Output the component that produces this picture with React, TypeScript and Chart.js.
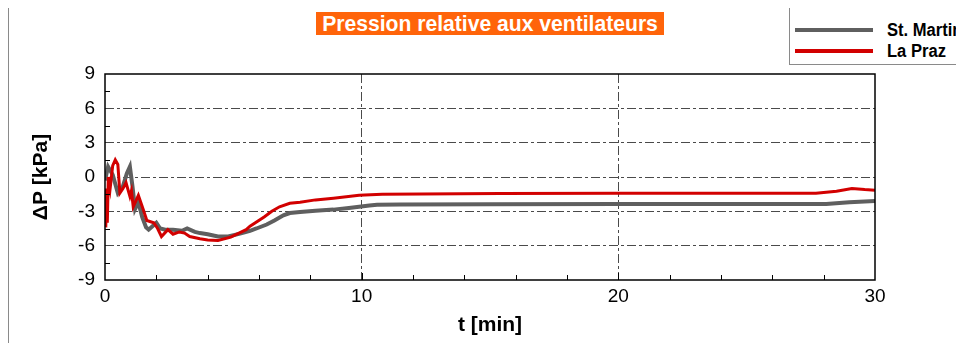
import React, { useEffect, useRef } from "react";
import { Chart, registerables } from "chart.js";

Chart.register(...registerables);

const CHART_TITLE = "Pression relative aux ventilateurs";
const SERIES_NAMES = ["St. Martin", "La Praz"];
const X_TITLE = "t [min]";
const Y_TITLE = "\u0394P [kPa]";
const X_TICKS = [0, 10, 20, 30];
const Y_TICKS = [-9, -6, -3, 0, 3, 6, 9];
const X_MINOR = [2, 4, 6, 8, 12, 14, 16, 18, 22, 24, 26, 28];
const Y_MINOR = [-7.5, -4.5, -1.5, 1.5, 4.5, 7.5];

// St. Martin (gray)
const tStMartin = [
  0, 0.12, 0.3, 0.5, 0.7, 0.85, 0.97, 1.07, 1.17, 1.3, 1.45, 1.6, 1.7, 1.85,
  2.0, 2.15, 2.35, 2.65, 3.0, 3.2, 3.5, 3.7, 4.0, 4.4, 4.8, 5.26, 5.65, 5.9,
  6.3, 6.6, 6.95, 7.2, 7.6, 8.2, 8.9, 9.5, 9.9, 10.3, 10.6, 11.5, 15, 20, 25,
  28.1, 29, 30,
];
const pStMartin = [
  -0.3, 0.9, 0.2, -1.4, -0.8, 0.3, 0.9, -0.8, -2.8, -2.2, -3.5, -4.4, -4.6,
  -4.3, -4.0, -4.5, -4.6, -4.6, -4.7, -4.5, -4.8, -4.9, -5.0, -5.2, -5.2,
  -4.95, -4.7, -4.5, -4.15, -3.8, -3.35, -3.15, -3.05, -2.95, -2.85, -2.7,
  -2.6, -2.5, -2.42, -2.4, -2.38, -2.37, -2.36, -2.36, -2.2, -2.1,
];

// La Praz (red)
const tLaPraz = [
  0, 0.03, 0.06, 0.09, 0.13, 0.2, 0.3, 0.4, 0.5, 0.58, 0.7, 0.82, 0.97, 1.03,
  1.1, 1.3, 1.5, 1.63, 1.9, 2.05, 2.2, 2.45, 2.65, 2.9, 3.1, 3.3, 3.7, 4.0,
  4.4, 4.9, 5.5, 5.65, 6.2, 6.5, 6.8, 7.2, 7.6, 8.2, 8.9, 9.9, 10.8, 15.4, 20,
  27.7, 28.5, 29.1, 29.6, 30,
];
const pLaPraz = [
  -1.0, -4.4, -1.5, -4.0, 0.0, -1.0, 1.0, 1.5, 1.1, -1.4, -1.0, -0.5, -1.7,
  -1.2, -2.6, -1.6, -2.9, -3.8, -4.0, -4.5, -5.2, -4.6, -5.0, -4.8, -4.9,
  -5.2, -5.4, -5.5, -5.55, -5.25, -4.6, -4.3, -3.5, -3.0, -2.6, -2.3, -2.2,
  -2.0, -1.85, -1.6, -1.5, -1.45, -1.43, -1.43, -1.25, -1.0, -1.1, -1.15,
];

const GRAY = "#5f5f5f";
const RED = "#d20000";
const FONT = "'Liberation Sans', Arial, Helvetica, sans-serif";

const framePlugin = {
  id: "frameTicks",
  afterDraw(chart: any) {
    const { ctx, chartArea } = chart;
    const xs = chart.scales.x;
    const ys = chart.scales.y;
    ctx.save();
    ctx.strokeStyle = "#000";
    ctx.lineWidth = 1.5;
    ctx.setLineDash([]);
    ctx.strokeRect(
      chartArea.left,
      chartArea.top,
      chartArea.right - chartArea.left,
      chartArea.bottom - chartArea.top
    );
    ctx.lineWidth = 1;
    ctx.beginPath();
    X_MINOR.forEach((v) => {
      const px = Math.round(xs.getPixelForValue(v)) + 0.5;
      ctx.moveTo(px, chartArea.bottom);
      ctx.lineTo(px, chartArea.bottom - 5);
    });
    [10, 20].forEach((v) => {
      const px = Math.round(xs.getPixelForValue(v)) + 0.5;
      ctx.moveTo(px, chartArea.bottom);
      ctx.lineTo(px, chartArea.bottom - 7);
    });
    Y_MINOR.forEach((v) => {
      const py = Math.round(ys.getPixelForValue(v)) + 0.5;
      ctx.moveTo(chartArea.left, py);
      ctx.lineTo(chartArea.left + 5, py);
    });
    ctx.stroke();
    ctx.restore();
  },
};

function ChartView() {
  const ref = useRef<HTMLCanvasElement | null>(null);
  useEffect(() => {
    if (!ref.current) return;
    const chart = new Chart(ref.current, {
      type: "line",
      data: {
        datasets: [
          {
            label: SERIES_NAMES[0],
            data: tStMartin.map((t, i) => ({ x: t, y: pStMartin[i] })),
            borderColor: GRAY,
            backgroundColor: GRAY,
            borderWidth: 4,
            pointRadius: 0,
            tension: 0,
            order: 2,
          },
          {
            label: SERIES_NAMES[1],
            data: tLaPraz.map((t, i) => ({ x: t, y: pLaPraz[i] })),
            borderColor: RED,
            backgroundColor: RED,
            borderWidth: 3,
            pointRadius: 0,
            tension: 0,
            order: 1,
          },
        ],
      },
      options: {
        animation: false,
        responsive: false,
        maintainAspectRatio: false,
        layout: { padding: { left: 0, top: 66, right: 81, bottom: 0 } },
        plugins: {
          legend: { display: false },
          title: { display: false },
          tooltip: { enabled: false },
        },
        scales: {
          x: {
            type: "linear",
            min: 0,
            max: 30,
            afterBuildTicks: (s: any) => {
              s.ticks = X_TICKS.map((v) => ({ value: v }));
            },
            afterFit: (s: any) => {
              s.height = 63;
            },
            ticks: {
              color: "#000",
              font: { size: 19, family: FONT },
              padding: 5,
              maxRotation: 0,
              autoSkip: false,
            },
            grid: {
              drawTicks: false,
              lineWidth: 1,
              color: (c: any) =>
                c.tick && (c.tick.value === 10 || c.tick.value === 20)
                  ? "#4a4a4a"
                  : "rgba(0,0,0,0)",
            },
            border: { display: false, dash: [9, 3, 3, 3] },
            title: {
              display: true,
              text: X_TITLE,
              color: "#000",
              font: { size: 21, weight: "bold", family: FONT },
              padding: { top: 0, bottom: 5 },
            },
          },
          y: {
            type: "linear",
            min: -9,
            max: 9,
            afterBuildTicks: (s: any) => {
              s.ticks = Y_TICKS.map((v) => ({ value: v }));
            },
            afterFit: (s: any) => {
              s.width = 97;
            },
            ticks: {
              color: "#000",
              font: { size: 19, family: FONT },
              padding: 10,
              autoSkip: false,
            },
            grid: {
              drawTicks: false,
              lineWidth: 1,
              color: (c: any) =>
                c.tick && Math.abs(c.tick.value) < 9 ? "#4a4a4a" : "rgba(0,0,0,0)",
            },
            border: { display: false, dash: [9, 3, 3, 3] },
            title: {
              display: true,
              text: Y_TITLE,
              color: "#000",
              font: { size: 21, weight: "bold", family: FONT },
              padding: { top: 21, bottom: 0 },
            },
          },
        },
      },
      plugins: [framePlugin],
    } as any);
    return () => chart.destroy();
  }, []);
  return (
    <canvas
      ref={ref}
      width={948}
      height={335}
      style={{ position: "absolute", left: 0, top: 0, width: 948, height: 335 }}
    />
  );
}

export default function App() {
  return (
    <div
      style={{
        position: "relative",
        width: 948,
        height: 335,
        fontFamily: FONT,
      }}
    >
      <div
        style={{
          position: "absolute",
          left: 0,
          top: -1,
          width: 781,
          height: 336,
          borderLeft: "1px solid #8a8a8a",
          borderTop: "1px solid #8a8a8a",
          boxSizing: "border-box",
        }}
      />
      <ChartView />
      <div
        style={{
          position: "absolute",
          left: 308,
          top: 4,
          width: 348,
          height: 23,
          background: "#ff640a",
          overflow: "hidden",
        }}
      >
        <div
          style={{
            position: "absolute",
            left: "50%",
            top: 0,
            transform: "translateX(-50%) scaleX(0.96)",
            color: "#fff",
            fontWeight: "bold",
            fontSize: 22,
            lineHeight: "23px",
            whiteSpace: "nowrap",
          }}
        >
          {CHART_TITLE}
        </div>
      </div>
      <div
        style={{
          position: "absolute",
          left: 781,
          top: -1,
          width: 175,
          height: 58,
          background: "#fff",
          border: "1px solid #8a8a8a",
          boxSizing: "border-box",
          overflow: "hidden",
        }}
      >
        {SERIES_NAMES.map((name, i) => (
          <div
            key={name}
            style={{
              position: "absolute",
              left: 5,
              top: i === 0 ? 12 : 33,
              height: 20,
              display: "flex",
              alignItems: "center",
              whiteSpace: "nowrap",
            }}
          >
            <div
              style={{
                width: 78,
                height: 4,
                background: i === 0 ? GRAY : RED,
                marginRight: 14,
              }}
            />
            <span
              style={{
                display: "inline-block",
                transform: "scaleX(0.92)",
                transformOrigin: "left center",
                fontWeight: "bold",
                fontSize: 18,
                color: "#000",
              }}
            >
              {name}
            </span>
          </div>
        ))}
      </div>
    </div>
  );
}
